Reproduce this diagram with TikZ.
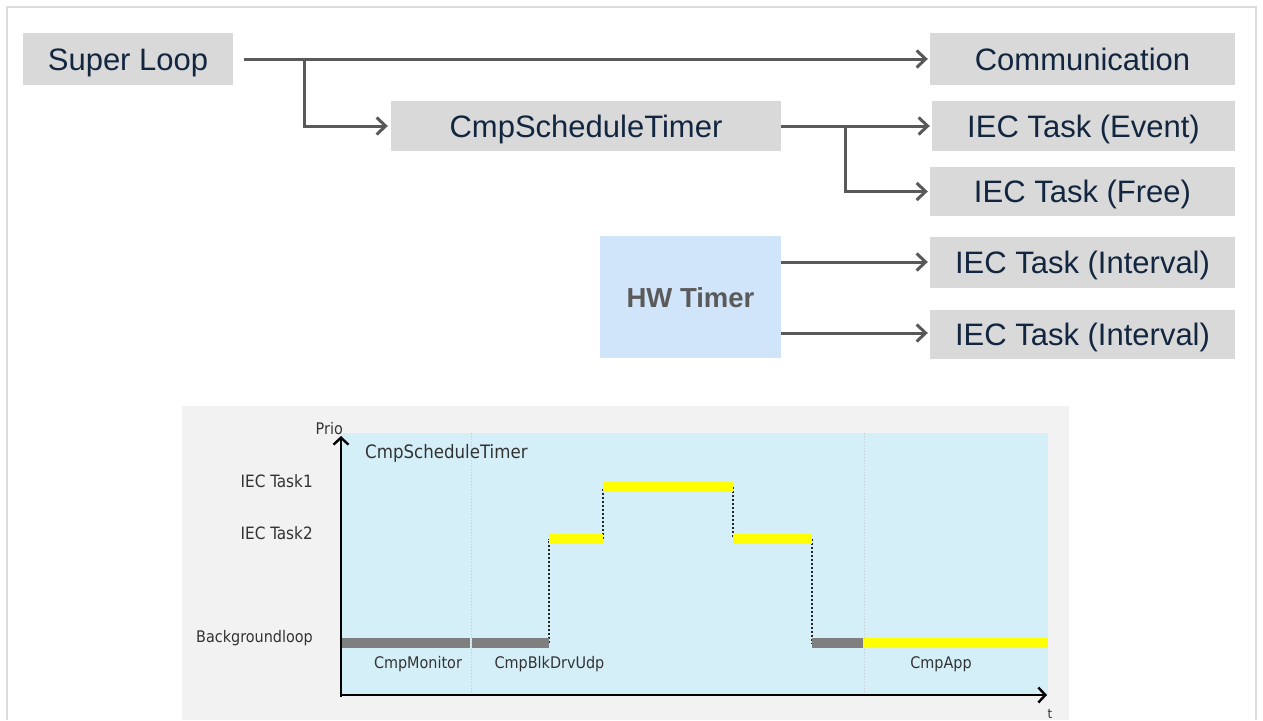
\documentclass[tikz,border=0pt]{standalone}
\usepackage{fontspec}
\setmainfont{Liberation Sans}
\newfontfamily\chartfont{DejaVu Sans Condensed}
\usetikzlibrary{arrows.meta}

\definecolor{framegray}{HTML}{DCDCDC}
\definecolor{boxgray}{HTML}{D9D9D9}
\definecolor{navytext}{HTML}{12263F}
\definecolor{linkgray}{HTML}{595959}
\definecolor{hwblue}{HTML}{D0E4FA}
\definecolor{hwtext}{HTML}{5A5A5A}
\definecolor{panelgray}{HTML}{F2F2F2}
\definecolor{plotblue}{HTML}{D5EFF8}
\definecolor{sepgray}{HTML}{C8C8C8}
\definecolor{bargray}{HTML}{7F7F7F}
\definecolor{baryellow}{HTML}{FFFF00}
\definecolor{charttext}{HTML}{333333}

\tikzset{
  taskbox/.style={fill=boxgray, text=navytext, inner sep=0pt,
    text height=22.5pt, text depth=0pt,
    font=\fontsize{31}{36}\selectfont},
  link/.style={draw=linkgray, line width=3pt,
    -{Straight Barb[length=9pt,width=17pt]}},
  axisline/.style={draw=black, line width=2.4pt,
    -{Straight Barb[length=7pt,width=15pt]}},
  runbar/.style={line width=10pt, line cap=butt},
  switchline/.style={draw=black!85, dotted, line width=2pt},
  sepline/.style={draw=sepgray, dotted, line width=1pt},
  chartlbl/.style={text=charttext, inner sep=0pt,
    font=\chartfont\fontsize{16}{18}\selectfont},
}

\begin{document}
\begin{tikzpicture}[x=1pt,y=-1pt]
\useasboundingbox (0,0) rectangle (1263,720);
\fill[white] (0,0) rectangle (1263,720);

% outer frame (open at the bottom)
\draw[framegray, line width=1.5pt] (7,720) -- (7,7) -- (1256,7) -- (1256,720);

% ---------- scheduling overview ----------
\node[taskbox, minimum width=210pt, minimum height=52pt] (sl)   at (128,59)      {Super Loop};
\node[taskbox, minimum width=305pt, minimum height=52pt] (comm) at (1082.5,59)   {Communication};
\node[taskbox, minimum width=390pt, minimum height=50pt] (cst)  at (586,126)     {CmpScheduleTimer};
\node[taskbox, minimum width=303pt, minimum height=50pt] (ev)   at (1083.5,126)  {IEC Task (Event)};
\node[taskbox, minimum width=305pt, minimum height=49pt] (fr)   at (1082.5,191.5){IEC Task (Free)};
\node[fill=hwblue, text=hwtext, inner sep=0pt, minimum width=181pt, minimum height=122pt,
      text height=20pt, text depth=0pt,
      font=\bfseries\fontsize{27.5}{30}\selectfont] (hw) at (690.5,297) {HW Timer};
\node[taskbox, minimum width=305pt, minimum height=51pt] (iv1)  at (1082.5,262.5){IEC Task (Interval)};
\node[taskbox, minimum width=305pt, minimum height=49pt] (iv2)  at (1082.5,334.5){IEC Task (Interval)};

\coordinate (j1) at (304,59);
\coordinate (j2) at (845,126);

\draw[link, shorten >=2pt] ([xshift=11pt]sl.east) -- (comm.west);
\draw[link, shorten >=3pt] (j1) |- (cst.west);
\draw[link, shorten >=2pt] (cst.east) -- (ev.west);
\draw[link, shorten >=2pt] (j2) |- (fr.west);
\draw[link, shorten >=2pt] (hw.east |- 0,262) -- (iv1.west |- 0,262);
\draw[link, shorten >=2pt] (hw.east |- 0,333) -- (iv2.west |- 0,333);

% ---------- priority / time chart ----------
\fill[panelgray] (182,406) rectangle (1069,720);
\fill[plotblue] (341,433) rectangle (1048,695);

\draw[sepline] (471,433) -- (471,695);
\draw[sepline] (864,433) -- (864,695);

% context switches
\draw[switchline] (549,643) -- (549,538.5);
\draw[switchline] (603,538.5) -- (603,487);
\draw[switchline] (733,487) -- (733,538.5);
\draw[switchline] (812,538.5) -- (812,643);

% running tasks
\draw[runbar, bargray]   (341,643) -- (470.3,643);
\draw[runbar, bargray]   (471.7,643) -- (549,643);
\draw[runbar, baryellow] (549,538.5) -- (603,538.5);
\draw[runbar, baryellow] (603,487) -- (733,487);
\draw[runbar, baryellow] (733,538.5) -- (812,538.5);
\draw[runbar, bargray]   (812,643) -- (863,643);
\draw[runbar, baryellow] (863,643) -- (1048,643);

% axes
\draw[axisline] (341,697) -- (341,436);
\draw[axisline] (340,695) -- (1047,695);

\node[chartlbl, anchor=east] (prio) at (343,429) {Prio};
\node[chartlbl, anchor=center] (taxis) at (1050,714) {\fontsize{13}{14}\selectfont t};
\node[chartlbl, anchor=west, font=\chartfont\fontsize{18.5}{20}\selectfont] (cstl) at (365,453) {CmpScheduleTimer};
\node[chartlbl, anchor=east, font=\chartfont\fontsize{17}{18}\selectfont] (t1) at (313,481) {IEC Task1};
\node[chartlbl, anchor=east, font=\chartfont\fontsize{17}{18}\selectfont] (t2) at (313,533) {IEC Task2};
\node[chartlbl, anchor=east] (bg) at (313,638) {Backgroundloop};
\node[chartlbl] (mon) at (418,664) {CmpMonitor};
\node[chartlbl] (blk) at (549.5,664) {CmpBlkDrvUdp};
\node[chartlbl] (app) at (941,664) {CmpApp};
\end{tikzpicture}
\end{document}
